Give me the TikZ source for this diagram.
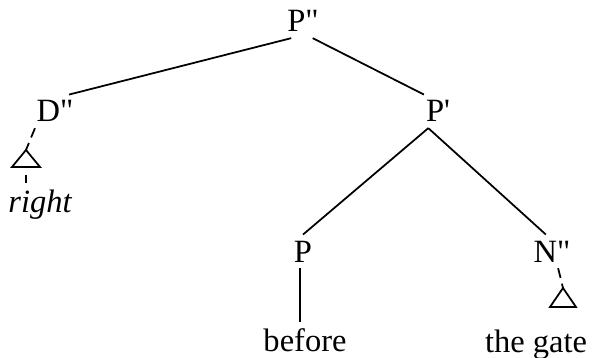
\documentclass[tikz,border=0pt]{standalone}
\usepackage{fontspec}
\setmainfont{Liberation Serif}[Ligatures=TeXOff]
\usepackage{tikz}

\begin{document}
\begin{tikzpicture}[x=0.02cm, y=-0.02cm, line width=1pt, every node/.style={anchor=base, inner sep=3pt, font=\fontsize{18.5}{22}\selectfont}, dashline/.style={dash pattern=on 5.7pt off 3.4pt}]

\useasboundingbox (0,0) rectangle (592,358);

  % Nodes
  \node (pp) at (303,32) {P"};
  \node (dp) at (55,122) {D"};
  \node (pbar) at (438,122) {P'};
  \node (p) at (303,262) {P};
  \node (np) at (552,262) {N"};
  \node (right) at (40,213) {\itshape right};
  \node (before) at (305,351) {before};
  \node (gate) at (536,352) {the gate};

  % Triangles
  \coordinate (droof) at (26,150);
  \coordinate (dbase) at (26,167);
  \draw (droof) -- ++(-14,17) -- ++(28,0) -- cycle;
  \coordinate (nroof) at (563,288);
  \draw (nroof) -- ++(-13,19) -- ++(26,0) -- cycle;

  % Branches
  \draw (pp.-125) -- (dp.50);
  \draw (pp.-60) -- (pbar.130);
  \draw (pbar.-120) -- (p.north);
  \draw (pbar.-120) -- (np.110);
  \draw (p.-100) -- (p.-100 |- before.north);
  \draw[dashline] (dp.-140) -- (droof);
  \draw[dashline] (np.-70) -- (nroof);
  \draw[dash pattern=on 0pt off 4.5pt on 4.5pt off 20pt] (dbase) -- (dbase |- right.north);

\end{tikzpicture}
\end{document}
